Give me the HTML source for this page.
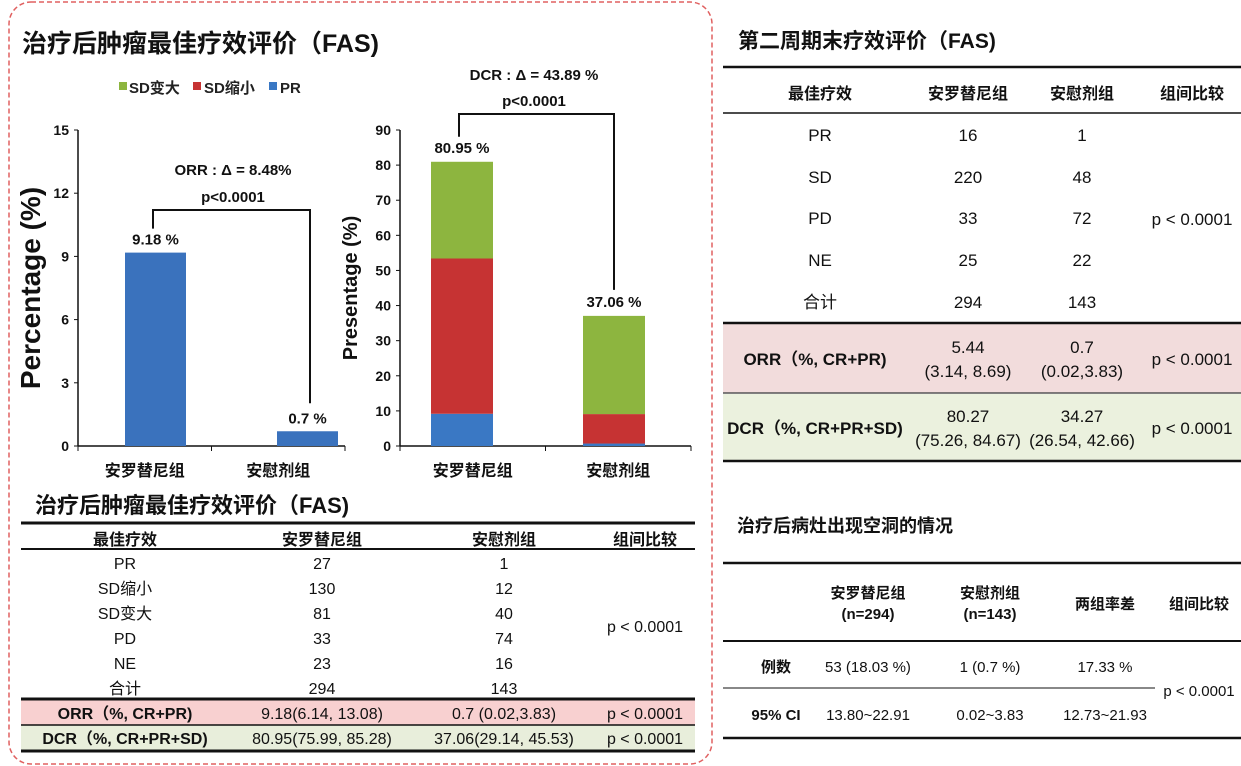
<!DOCTYPE html>
<html><head><meta charset="utf-8">
<style>
html,body{margin:0;padding:0;background:#fff;}
svg{display:block;font-family:"Liberation Sans","Noto Sans CJK SC",sans-serif;}
.b{font-weight:bold;}
</style></head>
<body>
<svg id="root" width="1241" height="766" viewBox="0 0 1241 766">
<rect x="9" y="2" width="703" height="762" rx="22" fill="none" stroke="#e06060" stroke-width="1.5" stroke-dasharray="5,3"/>
<text x="22" y="52" font-size="25" class="b" fill="#111">治疗后肿瘤最佳疗效评价（FAS)</text>

<!-- legend -->
<g font-size="15" font-weight="bold" fill="#222">
<rect x="119" y="82" width="8" height="8" fill="#8db53f"/>
<text x="129" y="93">SD变大</text>
<rect x="193" y="82" width="8" height="8" fill="#c63333"/>
<text x="204" y="93">SD缩小</text>
<rect x="269" y="82" width="8" height="8" fill="#3a78c4"/>
<text x="280" y="93">PR</text>
</g>

<g id="chart1"></g>
<g id="chart2"></g>

<!-- bottom-left table -->
<g>
<text x="35" y="513" font-size="22" class="b" fill="#111">治疗后肿瘤最佳疗效评价（FAS)</text>
<rect x="21" y="700" width="674" height="25" fill="#f8d0d0"/>
<rect x="21" y="725" width="674" height="25" fill="#e8eedb"/>
<line x1="21" y1="523" x2="695" y2="523" stroke="#111" stroke-width="3"/>
<line x1="21" y1="549" x2="695" y2="549" stroke="#111" stroke-width="2"/>
<line x1="21" y1="699" x2="695" y2="699" stroke="#111" stroke-width="3"/>
<line x1="21" y1="725" x2="695" y2="725" stroke="#111" stroke-width="1.5"/>
<line x1="21" y1="751" x2="695" y2="751" stroke="#111" stroke-width="3"/>
<g text-anchor="middle" font-size="16" fill="#111">
<text x="125" y="545" class="b">最佳疗效</text>
<text x="322" y="545" class="b">安罗替尼组</text>
<text x="504" y="545" class="b">安慰剂组</text>
<text x="645" y="545" class="b">组间比较</text>
<text x="125" y="569">PR</text><text x="322" y="569">27</text><text x="504" y="569">1</text>
<text x="125" y="594">SD缩小</text><text x="322" y="594">130</text><text x="504" y="594">12</text>
<text x="125" y="619">SD变大</text><text x="322" y="619">81</text><text x="504" y="619">40</text>
<text x="125" y="644">PD</text><text x="322" y="644">33</text><text x="504" y="644">74</text>
<text x="125" y="669">NE</text><text x="322" y="669">23</text><text x="504" y="669">16</text>
<text x="125" y="694">合计</text><text x="322" y="694">294</text><text x="504" y="694">143</text>
<text x="645" y="632">p &lt; 0.0001</text>
<text x="125" y="719" class="b">ORR（%, CR+PR)</text><text x="322" y="719">9.18(6.14, 13.08)</text><text x="504" y="719">0.7 (0.02,3.83)</text><text x="645" y="719">p &lt; 0.0001</text>
<text x="125" y="744" class="b">DCR（%, CR+PR+SD)</text><text x="322" y="744">80.95(75.99, 85.28)</text><text x="504" y="744">37.06(29.14, 45.53)</text><text x="645" y="744">p &lt; 0.0001</text>
</g>
</g>

<!-- right table 1 -->
<g>
<text x="738" y="48" font-size="21" class="b" fill="#111">第二周期末疗效评价（FAS)</text>
<rect x="723" y="324" width="518" height="69" fill="#f2dcdc"/>
<rect x="723" y="394" width="518" height="67" fill="#ebf1de"/>
<line x1="723" y1="67" x2="1241" y2="67" stroke="#111" stroke-width="2.5"/>
<line x1="723" y1="113" x2="1241" y2="113" stroke="#111" stroke-width="1.5"/>
<line x1="723" y1="323" x2="1241" y2="323" stroke="#111" stroke-width="2.5"/>
<line x1="723" y1="393" x2="1241" y2="393" stroke="#555" stroke-width="1.5"/>
<line x1="723" y1="461" x2="1241" y2="461" stroke="#111" stroke-width="2.5"/>
<g text-anchor="middle" font-size="17" fill="#111">
<text x="820" y="99" class="b" font-size="16">最佳疗效</text>
<text x="968" y="99" class="b" font-size="16">安罗替尼组</text>
<text x="1082" y="99" class="b" font-size="16">安慰剂组</text>
<text x="1192" y="99" class="b" font-size="16">组间比较</text>
<text x="820" y="141">PR</text><text x="968" y="141">16</text><text x="1082" y="141">1</text>
<text x="820" y="183">SD</text><text x="968" y="183">220</text><text x="1082" y="183">48</text>
<text x="820" y="224">PD</text><text x="968" y="224">33</text><text x="1082" y="224">72</text>
<text x="820" y="266">NE</text><text x="968" y="266">25</text><text x="1082" y="266">22</text>
<text x="820" y="308">合计</text><text x="968" y="308">294</text><text x="1082" y="308">143</text>
<text x="1192" y="225">p &lt; 0.0001</text>
<text x="815" y="365" class="b">ORR（%, CR+PR)</text>
<text x="968" y="353">5.44</text><text x="968" y="377">(3.14, 8.69)</text>
<text x="1082" y="353">0.7</text><text x="1082" y="377">(0.02,3.83)</text>
<text x="1192" y="365">p &lt; 0.0001</text>
<text x="815" y="434" class="b">DCR（%, CR+PR+SD)</text>
<text x="968" y="422">80.27</text><text x="968" y="446">(75.26, 84.67)</text>
<text x="1082" y="422">34.27</text><text x="1082" y="446">(26.54, 42.66)</text>
<text x="1192" y="434">p &lt; 0.0001</text>
</g>
</g>

<!-- right table 2 -->
<g>
<text x="737" y="532" font-size="18" class="b" fill="#111">治疗后病灶出现空洞的情况</text>
<line x1="723" y1="563" x2="1241" y2="563" stroke="#111" stroke-width="2.5"/>
<line x1="723" y1="641" x2="1241" y2="641" stroke="#111" stroke-width="2"/>
<line x1="723" y1="688" x2="1155" y2="688" stroke="#111" stroke-width="1"/>
<line x1="723" y1="738" x2="1241" y2="738" stroke="#111" stroke-width="2.5"/>
<g text-anchor="middle" font-size="15" fill="#111">
<text x="868" y="598" class="b">安罗替尼组</text><text x="868" y="619" class="b">(n=294)</text>
<text x="990" y="598" class="b">安慰剂组</text><text x="990" y="619" class="b">(n=143)</text>
<text x="1105" y="609" class="b">两组率差</text>
<text x="1199" y="609" class="b">组间比较</text>
<text x="776" y="672" class="b">例数</text><text x="868" y="672">53 (18.03 %)</text><text x="990" y="672">1 (0.7 %)</text><text x="1105" y="672">17.33 %</text>
<text x="776" y="720" class="b">95% CI</text><text x="868" y="720">13.80~22.91</text><text x="990" y="720">0.02~3.83</text><text x="1105" y="720">12.73~21.93</text>
<text x="1199" y="696">p &lt; 0.0001</text>
</g>
</g>
</svg>

<script>
const categories = ["安罗替尼组", "安慰剂组"];
const orrValues = [9.18, 0.7];
const orrLabels = ["9.18 %", "0.7 %"];
const orrTicks = [0, 3, 6, 9, 12, 15];
const prValues = [9.18, 0.7];
const sdShrinkValues = [44.22, 8.39];
const sdEnlargeValues = [27.55, 27.97];
const dcrLabels = ["80.95 %", "37.06 %"];
const dcrTicks = [0, 10, 20, 30, 40, 50, 60, 70, 80, 90];

const NS = "http://www.w3.org/2000/svg";
function mk(parent, tag, attrs, txt) {
  const e = document.createElementNS(NS, tag);
  for (const k in attrs) e.setAttribute(k, attrs[k]);
  if (txt !== undefined) e.textContent = txt;
  parent.appendChild(e);
  return e;
}

function axes(g, x0, x1, y0, y1, max, ticks, title, titleSize, titleX) {
  const y = v => y0 - (v / max) * (y0 - y1);
  let e = mk(g, "line", {x1: x0, y1: y0, x2: x0, y2: y1, stroke: "#111", "stroke-width": 1.5});
  
  
  e = mk(g, "line", {x1: x0, y1: y0, x2: x1, y2: y0, stroke: "#111", "stroke-width": 1.5});
  
  
  ticks.forEach(t => {
    mk(g, "line", {x1: x0 - 4, y1: y(t), x2: x0, y2: y(t), stroke: "#111"});
    e = mk(g, "text", {x: x0 - 9, y: y(t) + 5, "text-anchor": "end", "font-size": 14, "font-weight": "bold", fill: "#111"}, t);
    
    
  });
  const step = (x1 - x0) / categories.length;
  [0, 1, 2].forEach(i => mk(g, "line", {x1: x0 + step * i, y1: y0, x2: x0 + step * i, y2: y0 + 5, stroke: "#111"}));
  categories.forEach((c, i) => {
    e = mk(g, "text", {x: x0 + step * (i + 0.5), y: y0 + 30, "text-anchor": "middle", "font-size": 16, "font-weight": "bold", fill: "#111"}, c);
    
    
  });
  const cy = (y0 + y1) / 2;
  e = mk(g, "text", {x: titleX, y: cy, transform: `rotate(-90 ${titleX} ${cy})`, "text-anchor": "middle", "font-size": titleSize, "font-weight": "bold", fill: "#111"}, title);
  
  
  return {y, step};
}

// Chart 1
(function () {
  const g = document.getElementById("chart1");
  const x0 = 78, x1 = 345, y0 = 446, y1 = 130;
  const a = axes(g, x0, x1, y0, y1, 15, orrTicks, "Percentage (%)", 28, 40);
  const step = (x1 - x0) / 2, bw = 61;
  const cx = i => x0 + step * (i + 0.5) + (i ? 41 : -45) * 0 ;
  const barX = i => i ? 277 : 125;
  orrValues.forEach((v, i) => {
    let e = mk(g, "rect", {x: barX(i), y: a.y(v), width: bw, height: y0 - a.y(v), fill: "#3a72bd"});
    
    
    e = mk(g, "text", {x: barX(i) + bw / 2, y: a.y(v) - 8, "text-anchor": "middle", "font-size": 15, "font-weight": "bold", fill: "#111"}, orrLabels[i]);
    
    
  });
  const lx = 153, rx = 310, top = a.y(11.2);
  let e = mk(g, "path", {d: `M${lx} ${a.y(orrValues[0]) - 24} V${top} H${rx} V${a.y(orrValues[1]) - 28}`, fill: "none", stroke: "#111", "stroke-width": 2});
  
  
  e = mk(g, "text", {x: 233, y: 175, "text-anchor": "middle", "font-size": 15, "font-weight": "bold", fill: "#111"}, "ORR : Δ = 8.48%");
  
  
  e = mk(g, "text", {x: 233, y: 202, "text-anchor": "middle", "font-size": 15, "font-weight": "bold", fill: "#111"}, "p<0.0001");
  
  
})();

// Chart 2
(function () {
  const g = document.getElementById("chart2");
  const x0 = 400, x1 = 691, y0 = 446, y1 = 130;
  const a = axes(g, x0, x1, y0, y1, 90, dcrTicks, "Presentage (%)", 20, 357);
  const bw = 62;
  const barX = i => i ? 583 : 431;
  const series = [[prValues, "#3a78c4", "bar-pr"], [sdShrinkValues, "#c63333", "bar-sd-shrink"], [sdEnlargeValues, "#8db53f", "bar-sd-enlarge"]];
  categories.forEach((c, i) => {
    let base = 0;
    series.forEach(s => {
      const v = s[0][i];
      const e = mk(g, "rect", {x: barX(i), y: a.y(base + v), width: bw, height: a.y(base) - a.y(base + v), fill: s[1]});
      
      
      base += v;
    });
    const e = mk(g, "text", {x: barX(i) + bw / 2, y: a.y(base) - 9, "text-anchor": "middle", "font-size": 15, "font-weight": "bold", fill: "#111"}, dcrLabels[i]);
    
    
  });
  const t0 = prValues[0] + sdShrinkValues[0] + sdEnlargeValues[0];
  const t1 = prValues[1] + sdShrinkValues[1] + sdEnlargeValues[1];
  let e = mk(g, "path", {d: `M459 ${a.y(t0) - 25} V114 H614 V${a.y(t1) - 26}`, fill: "none", stroke: "#111", "stroke-width": 2});
  
  
  e = mk(g, "text", {x: 534, y: 80, "text-anchor": "middle", "font-size": 15, "font-weight": "bold", fill: "#111"}, "DCR : Δ = 43.89 %");
  
  
  e = mk(g, "text", {x: 534, y: 106, "text-anchor": "middle", "font-size": 15, "font-weight": "bold", fill: "#111"}, "p<0.0001");
  
  
})();
</script>
</body></html>
